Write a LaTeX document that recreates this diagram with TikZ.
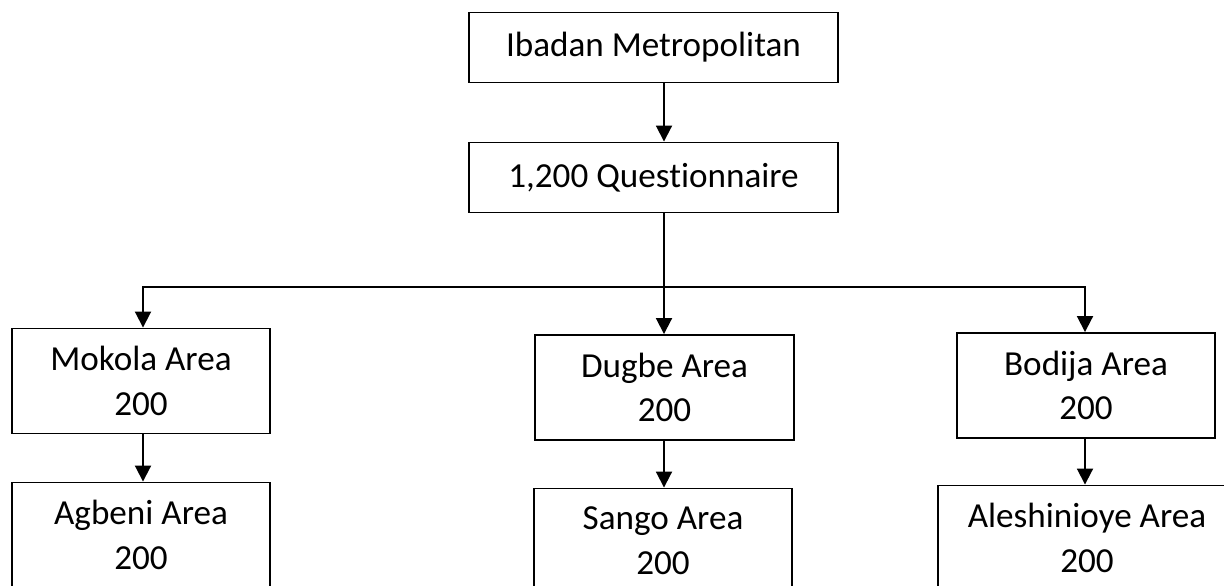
\documentclass[tikz,border=0pt]{standalone}
\usepackage{fontspec}
\setmainfont{Carlito}[Ligatures=NoCommon]
\usetikzlibrary{arrows.meta}

\begin{document}
\begin{tikzpicture}[x=0.02cm,y=-0.02cm,
    box/.style={draw,line width=1.1pt,inner sep=0pt,align=center,
      font=\fontsize{20}{25.5}\selectfont},
    bigbox/.style={box,minimum width=7.38cm,minimum height=1.4cm},
    areabox/.style={box,minimum width=5.17cm,minimum height=2.1cm},
    link/.style={line width=1.1pt,-{Triangle[length=0.32cm,width=0.32cm]}}]
  \clip (0,0) rectangle (1224,585);
  % top of the chart
  \node[bigbox] (ibadan) at (653.5,47.5) {Ibadan Metropolitan};
  \node[bigbox] (quest) at (653.5,177.5) {1,200 Questionnaire};
  \coordinate (bus) at (664,287);
  % three areas
  \node[areabox] (mokola) at (141,381) {Mokola Area\\200};
  \node[areabox] (dugbe) at (664.5,387.5) {Dugbe Area\\200};
  \node[areabox] (bodija) at (1086,385.5) {Bodija Area\\200};
  \node[areabox] (agbeni) at (141,535) {Agbeni Area\\200};
  \node[areabox] (sango) at (663,541) {Sango Area\\200};
  \node[areabox,minimum width=5.98cm] (aleshin) at (1087,538) {Aleshinioye Area\\200};
  % connectors
  \draw[link] (ibadan.south -| bus) -- (quest.north -| bus);
  \draw[line width=1.1pt] (quest.south -| bus) -- (bus);
  \draw[link] (bus) -| (mokola.north -| 143,0);
  \draw[link] (bus) -- (dugbe.north -| bus);
  \draw[link] (bus) -| (bodija.north -| 1085,0);
  \draw[link] (mokola.south -| 143,0) -- (agbeni.north -| 143,0);
  \draw[link] (dugbe.south -| bus) -- (sango.north -| bus);
  \draw[link] (bodija.south -| 1085,0) -- (aleshin.north -| 1085,0);
\end{tikzpicture}
\end{document}
